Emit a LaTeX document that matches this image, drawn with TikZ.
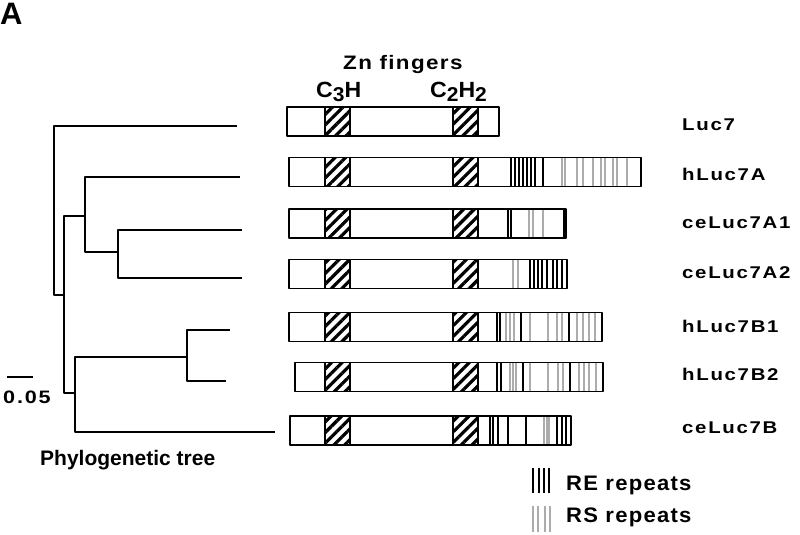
\documentclass[tikz,border=0pt]{standalone}
\usepackage{fontspec}
\newfontfamily\labfont{Liberation Sans Bold}[FakeStretch=1.2, LetterSpace=10]
\newfontfamily\legfont{Liberation Sans Bold}[FakeStretch=1.05, LetterSpace=6]
\newfontfamily\znfont{Liberation Sans Bold}[FakeStretch=1.15, LetterSpace=7]
\newfontfamily\headfont{Liberation Sans Bold}
\usetikzlibrary{patterns.meta}
\begin{document}
\begin{tikzpicture}[x=1pt,y=-1pt, line join=round,
    lab/.style={inner sep=0, anchor=base west, font=\labfont\fontsize{17}{20}\selectfont},
    leg/.style={inner sep=0, anchor=base west, font=\legfont\fontsize{21}{24}\selectfont},
    hatch/.style={line width=1.3pt, pattern={Lines[angle=45,distance=7.5pt,line width=3.2pt]}},
    re/.style={line width=1.5pt},
    rs/.style={line width=1.5pt, gray!65}]
  \useasboundingbox (0,0) rectangle (800,535);
  \def\h{14.5}
  \node[inner sep=0, anchor=base west, font=\headfont\fontsize{31}{31}\selectfont] (panel) at (0,25) {A};
  % tree
  \begin{scope}[line width=1.3pt]
    \draw (237,126) -| (54,295) -- (64,295);
    \draw (85,216) -| (64,393) -- (75,393);
    \draw (240,177) -| (85,252) -- (118,252);
    \draw (242,230) -| (118,278) -- (242,278);
    \draw (187,357) -| (75,432) -- (275,432);
    \draw (230,330) -| (187,381) -- (226,381);
    \draw (7,377) -- (33,377);
  \end{scope}
  \node[lab, font=\labfont\fontsize{18}{20}\selectfont] (scale) at (3,403) {0.05};
  \node[inner sep=0, anchor=base west, font=\headfont\fontsize{21}{24}\selectfont] (tree) at (40,465) {Phylogenetic tree};
  % Zn finger heads
  \node[inner sep=0, anchor=base west, font=\znfont\fontsize{19.5}{22}\selectfont] (zn) at (343,70) {Zn fingers};
  \node[leg, font=\legfont\fontsize{22}{24}\selectfont] (cth) at (316,97) {C\raisebox{-4.5pt}{\fontsize{20}{20}\selectfont 3}H};
  \node[leg, font=\legfont\fontsize{22}{24}\selectfont] (cthh) at (430,97) {C\raisebox{-4.5pt}{\fontsize{20}{20}\selectfont 2}H\raisebox{-4.5pt}{\fontsize{20}{20}\selectfont 2}};
  % protein bars
  \foreach \n/\y/\l/\r/\b/\t in {luc/121.5/287/499/130/Luc7, hA/172/289/641/180/hLuc7A,
      ceAa/223.5/289/566/228/ceLuc7A1, ceAb/274/289/567/278/ceLuc7A2, hBa/327/289/602/332/hLuc7B1,
      hBb/377/295/603/380/hLuc7B2, ceB/430.5/290/571/433/ceLuc7B}{
    \draw[line width=1.5pt, fill=white] (\l,\y-\h) rectangle (\r,\y+\h);
    \draw[hatch] (325,\y-\h) rectangle (350,\y+\h);
    \draw[hatch] (453,\y-\h) rectangle (478,\y+\h);
    \node[lab] (\n) at (682,\b) {\t};
  }
  \foreach \y/\blk/\gry in {172/{511,515,519,523,527,531,535,543}/{562,565,577,583,593,601,605,613,617,627},
      223.5/{508,511,564}/{529,533,543}, 274/{530,534,538,542,547,553,557,562}/{513,518},
      327/{497,500,521,569}/{506,510,514,530,548,557,562,577,583,589,595},
      377/{497,501,523,570}/{510,513,516,530,548,558,563,579,584,589,596},
      430.5/{490,493,498,508,526,557,562,566}/{544,547,549}}{
    \foreach \x in \gry \draw[rs] (\x,\y-13.7) -- (\x,\y+13.7);
    \foreach \x in \blk \draw[re] (\x,\y-13.7) -- (\x,\y+13.7);
  }
  % legend
  \foreach \x in {533,539,544,549} \draw[re, line width=2pt] (\x,468) -- (\x,493);
  \foreach \x in {533,538,545,550} \draw[rs] (\x,506) -- (\x,532);
  \node[leg] (re) at (566,490) {RE repeats};
  \node[leg] (rs) at (566,522) {RS repeats};
\end{tikzpicture}
\end{document}
